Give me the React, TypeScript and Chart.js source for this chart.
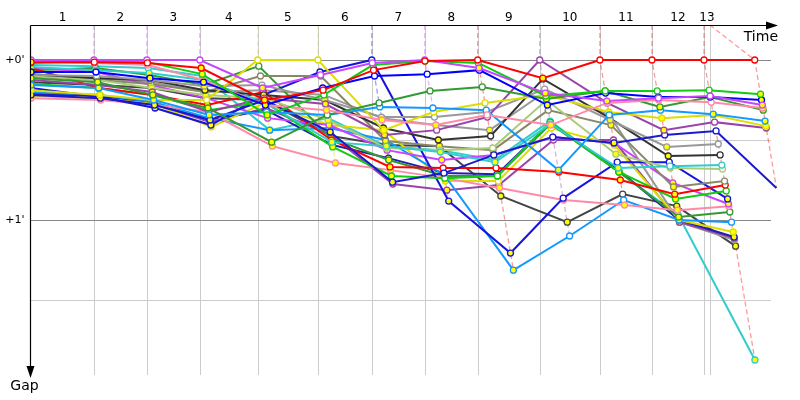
import React, { useEffect, useRef } from 'react';
import { Chart, registerables } from 'chart.js';

Chart.register(...registerables);

// ---- Data ----
const lapNumbers = [1, 2, 3, 4, 5, 6, 7, 8, 9, 10, 11, 12, 13];
// leader's elapsed time (s) at the end of each lap
const leaderLapTimes = [139, 256, 373, 501, 634, 753, 870, 987, 1124, 1257, 1372, 1487, 1599];
const raceEndTime = 1500;
const gapTickValues = [0, 60];
const gapTickLabels = ["+0'", "+1'"];
const gapGridValues = [0, 30, 60, 90];
const axisTitleX = 'Time';
const axisTitleY = 'Gap';

// gap to leader (s) per lap, index 0 = start
const gapRed = [0.8, 0.8, 1.1, 3.0, 15.0, 11.3, 3.8, 0.4, 0, 6.8, 0, 0, 0, 0];
const gapViolet = [0, 0, 0, 0, 10.5, 5.6, 1.1, 0, 3.0, 12.4, 15.4, 14.3, 13.5, 16.9];
const gapGreen = [1.1, 0.4, 0.8, 5.3, 20.6, 13.1, 1.9, 0.4, 1.1, 13.5, 11.6, 11.6, 11.3, 12.8];
const gapBlue = [4.5, 4.5, 6.8, 8.3, 16.9, 10.5, 6.0, 5.3, 3.8, 16.9, 12.4, 13.9, 13.9, 15.0];
const gapPink = [0.8, 1.1, 1.9, 7.5, 16.9, 18.8, 22.5, 24.4, 20.6, 24.4, 16.1, 15.0, 15.8, 18.0];
const gapDarkGreen = [6.8, 8.3, 13.1, 18.0, 30.8, 20.6, 16.1, 11.6, 10.1, 14.6, 11.6, 17.6, 13.9, 18.8];
const gapAzure = [9.4, 10.5, 15.0, 20.6, 19.5, 20.6, 17.6, 18.0, 18.8, 41.3, 20.6, 18.8, 20.3, 22.9];
const gapYellow = [11.3, 13.1, 15.0, 15.0, 0, 0, 26.3, 19.5, 16.1, 13.1, 19.5, 21.8, 20.6, 24.8];
const gapPurple = [7.5, 9.4, 12.0, 19.5, 14.3, 16.5, 28.1, 26.3, 21.4, 0, 16.1, 26.3, 23.3, 25.5];
const gapNavy = [13.1, 14.3, 16.9, 22.5, 15.0, 27.0, 45.8, 42.4, 35.6, 28.9, 31.1, 28.1, 26.6, 48.0];
const gapGray = [5.6, 6.0, 7.5, 9.8, 9.4, 15.0, 21.4, 21.4, 19.5, 10.9, 22.5, 32.6, 31.5];
const gapBlack = [5.3, 6.8, 7.5, 11.3, 13.1, 15.0, 25.5, 30.0, 28.5, 7.1, 21.8, 36.0, 35.6];
const gapTeal = [2.6, 3.8, 4.9, 7.5, 16.1, 30.8, 32.3, 34.5, 38.3, 24.0, 40.5, 39.8, 39.4];
const gapSage = [6.0, 7.5, 10.5, 13.1, 14.3, 22.5, 33.0, 33.8, 33.0, 15.0, 35.3, 40.5, 40.9];
const gapOlive = [6.4, 7.5, 9.0, 12.0, 6.0, 6.0, 30.4, 32.3, 33.8, 18.8, 24.4, 47.6, 45.4];
const gapRed2 = [3.0, 10.5, 13.1, 16.9, 12.0, 30.0, 40.1, 40.5, 40.5, 42.0, 45.0, 50.3, 46.9];
const gapGreen2 = [9.0, 10.5, 13.1, 18.8, 15.8, 32.6, 43.5, 44.3, 43.5, 23.3, 42.0, 52.1, 49.1];
const gapBlue2 = [10.5, 13.9, 18.0, 24.4, 13.1, 4.5, 0, 52.9, 72.4, 51.8, 38.3, 38.3, 52.1];
const gapViolet2 = [3.0, 4.5, 9.4, 14.3, 21.8, 24.4, 33.8, 37.5, 35.6, 28.9, 31.1, 46.1, 54.0];
const gapPink2 = [14.3, 15.0, 16.9, 19.5, 32.3, 38.6, 41.3, 44.3, 48.0, 52.5, 54.4, 56.3, 54.8];
const gapDarkGreen2 = [3.8, 3.0, 5.6, 9.4, 2.3, 29.3, 37.5, 43.5, 43.5, 24.0, 42.0, 58.9, 57.0];
const gapAzure2 = [12.0, 13.1, 15.8, 21.8, 26.3, 25.5, 30.0, 43.1, 78.8, 66.0, 52.5, 60.0, 60.8];
const gapYellow2 = [13.5, 14.3, 16.5, 25.1, 16.1, 24.4, 26.3, 45.4, 45.4, 25.5, 31.9, 60.0, 64.5];
const gapBlue3 = [12.8, 13.5, 16.5, 22.5, 18.8, 31.9, 36.8, 42.4, 42.8, 23.6, 41.3, 60.0, 66.4];
const gapPurple2 = [12.4, 13.5, 16.5, 23.3, 18.0, 28.1, 46.5, 48.8, 46.9, 30.0, 30.0, 60.8, 66.8];
const gapGray2 = [6.0, 6.8, 8.3, 12.0, 11.3, 13.1, 21.8, 24.4, 26.3, 12.0, 20.6, 60.8, 67.5];
const gapDarkGray = [8.3, 9.4, 10.5, 14.3, 15.0, 28.5, 31.9, 32.3, 51.0, 60.8, 50.3, 54.8, 69.8];
const gapCyan = [1.9, 2.3, 3.0, 6.0, 26.3, 21.8, 32.3, 33.8, 37.5, 22.9, 42.0, 58.1, 112.5];

// ---- Styles ----
const drivers = [
  { gaps: gapRed, color: '#ff0000' },
  { gaps: gapViolet, color: '#c845ff' },
  { gaps: gapGreen, color: '#11cc11' },
  { gaps: gapBlue, color: '#0000ff' },
  { gaps: gapPink, color: '#ff8aa8' },
  { gaps: gapDarkGreen, color: '#339933' },
  { gaps: gapAzure, color: '#1199ff' },
  { gaps: gapYellow, color: '#dddd00' },
  { gaps: gapPurple, color: '#9944aa' },
  { gaps: gapNavy, color: '#1a1acc' },
  { gaps: gapGray, color: '#999999' },
  { gaps: gapBlack, color: '#333333' },
  { gaps: gapTeal, color: '#33cccc' },
  { gaps: gapSage, color: '#aacc77' },
  { gaps: gapOlive, color: '#888866' },
  { gaps: gapRed2, color: '#ff0000' },
  { gaps: gapGreen2, color: '#11cc11' },
  { gaps: gapBlue2, color: '#1515dd' },
  { gaps: gapViolet2, color: '#c845ff' },
  { gaps: gapPink2, color: '#ff8aa8' },
  { gaps: gapDarkGreen2, color: '#339933' },
  { gaps: gapAzure2, color: '#1199ff' },
  { gaps: gapYellow2, color: '#dddd00' },
  { gaps: gapBlue3, color: '#2020b0' },
  { gaps: gapPurple2, color: '#9944aa' },
  { gaps: gapGray2, color: '#999999' },
  { gaps: gapDarkGray, color: '#444444' },
  { gaps: gapCyan, color: '#33cccc' },
];

const FONT = '"DejaVu Sans", Verdana, sans-serif';
const Y_MIN = -13.125;
const Y_MAX = 118.125;
const X_MAX = 1635;

function rgba(hex: string, a: number) {
  const n = parseInt(hex.slice(1), 16);
  return `rgba(${(n >> 16) & 255},${(n >> 8) & 255},${n & 255},${a})`;
}

const lapBoundaries = leaderLapTimes.map((t) => Math.min(t, raceEndTime));

const decorPlugin = {
  id: 'gapDecor',
  beforeDatasetsDraw(chart: any) {
    const { ctx, chartArea: a, scales } = chart;
    const xs = scales.x;
    const ys = scales.y;
    ctx.save();
    ctx.lineWidth = 1;
    const uniq = Array.from(new Set([...lapBoundaries, raceEndTime]));
    ctx.strokeStyle = '#cccccc';
    uniq.forEach((b) => {
      const px = Math.round(xs.getPixelForValue(b)) + 0.5;
      ctx.beginPath();
      ctx.moveTo(px, a.top);
      ctx.lineTo(px, a.bottom);
      ctx.stroke();
    });
    gapGridValues.forEach((v) => {
      const py = Math.round(ys.getPixelForValue(v)) + 0.5;
      ctx.strokeStyle = v % 60 === 0 ? '#888888' : '#cccccc';
      ctx.beginPath();
      ctx.moveTo(a.left, py);
      ctx.lineTo(a.right, py);
      ctx.stroke();
    });
    ctx.restore();
  },
  afterDatasetsDraw(chart: any) {
    const { ctx, chartArea: a, scales } = chart;
    const xs = scales.x;
    const ys = scales.y;
    ctx.save();
    ctx.strokeStyle = '#000000';
    ctx.fillStyle = '#000000';
    ctx.lineWidth = 1.2;
    const top = a.top + 0.5;
    const left = a.left - 0.5;
    const xEnd = a.right + 7;
    const yEnd = a.bottom + 3;
    // top (time) axis
    ctx.beginPath();
    ctx.moveTo(left, top);
    ctx.lineTo(xEnd - 8, top);
    ctx.stroke();
    ctx.beginPath();
    ctx.moveTo(xEnd, top);
    ctx.lineTo(xEnd - 12, top - 4);
    ctx.lineTo(xEnd - 12, top + 4);
    ctx.closePath();
    ctx.fill();
    // left (gap) axis
    ctx.beginPath();
    ctx.moveTo(left, top);
    ctx.lineTo(left, yEnd - 8);
    ctx.stroke();
    ctx.beginPath();
    ctx.moveTo(left, yEnd);
    ctx.lineTo(left - 4, yEnd - 12);
    ctx.lineTo(left + 4, yEnd - 12);
    ctx.closePath();
    ctx.fill();

    // axis titles
    ctx.font = `14px ${FONT}`;
    ctx.textAlign = 'right';
    ctx.textBaseline = 'alphabetic';
    ctx.fillText(axisTitleX, xEnd, top + 15);
    ctx.textAlign = 'center';
    ctx.fillText(axisTitleY, left - 6, yEnd + 12);

    // lap numbers
    ctx.font = `12px ${FONT}`;
    ctx.textAlign = 'center';
    ctx.textBaseline = 'middle';
    const starts = [0, ...lapBoundaries];
    lapNumbers.forEach((n, i) => {
      const x0 = xs.getPixelForValue(starts[i]);
      const x1 = xs.getPixelForValue(i < lapBoundaries.length - 1 ? lapBoundaries[i] : raceEndTime);
      ctx.fillText(String(n), (x0 + x1) / 2, top - 8);
    });

    // gap labels
    ctx.font = `11px ${FONT}`;
    ctx.textAlign = 'right';
    gapTickValues.forEach((v, i) => {
      ctx.fillText(gapTickLabels[i], left - 6, ys.getPixelForValue(v));
    });
    ctx.restore();
  },
};

function buildDatasets() {
  const sets: any[] = drivers.map((d) => {
    const points = d.gaps.map((g, i) => ({ x: i === 0 ? 0 : leaderLapTimes[i - 1] + g, y: g }));
    const fills = d.gaps.map((g, i) => {
      const lost = i === 0 ? g > 0 : g > d.gaps[i - 1] + 1;
      return lost ? '#ffff00' : '#ffffff';
    });
    return {
      data: points,
      showLine: true,
      borderColor: d.color,
      backgroundColor: d.color,
      borderWidth: 2,
      tension: 0,
      pointRadius: 3,
      pointBorderWidth: 1.3,
      pointBorderColor: d.color,
      pointBackgroundColor: fills,
      clip: { left: 0, top: 0, right: false, bottom: 0 },
    };
  });

  // dashed lap lines, coloured after that lap's leader
  lapNumbers.forEach((lap) => {
    const onLap = drivers.filter((d) => d.gaps.length > lap);
    if (!onLap.length) return;
    let leader = onLap[0];
    let maxGap = 0;
    onLap.forEach((d) => {
      if (d.gaps[lap] < leader.gaps[lap]) leader = d;
      if (d.gaps[lap] > maxGap) maxGap = d.gaps[lap];
    });
    const t = leaderLapTimes[lap - 1];
    const g0 = leader.gaps[lap];
    sets.push({
      data: [
        { x: lapBoundaries[lap - 1], y: Y_MIN },
        { x: t + g0, y: g0 },
        { x: t + maxGap, y: maxGap },
      ],
      showLine: true,
      borderColor: rgba(leader.color, 0.4),
      borderWidth: 1.3,
      borderDash: [5, 3],
      pointRadius: 0,
      tension: 0,
      clip: false,
    });
  });
  return sets;
}

export default function App() {
  const canvasRef = useRef<HTMLCanvasElement | null>(null);

  useEffect(() => {
    const canvas = canvasRef.current;
    if (!canvas) return;
    const chart = new Chart(canvas, {
      type: 'scatter',
      data: { datasets: buildDatasets() },
      options: {
        responsive: false,
        animation: false,
        devicePixelRatio: 1,
        events: [],
        layout: { padding: { left: 31, top: 25, right: 29, bottom: 25 } },
        plugins: { legend: { display: false }, tooltip: { enabled: false } },
        scales: {
          x: { type: 'linear', min: 0, max: X_MAX, display: false },
          y: { type: 'linear', min: Y_MIN, max: Y_MAX, reverse: true, display: false },
        },
      },
      plugins: [decorPlugin],
    } as any);
    return () => chart.destroy();
  }, []);

  return (
    <div style={{ position: 'fixed', left: 0, top: 0, width: 800, height: 400, background: '#ffffff' }}>
      <canvas ref={canvasRef} width={800} height={400} style={{ width: 800, height: 400 }} />
    </div>
  );
}
